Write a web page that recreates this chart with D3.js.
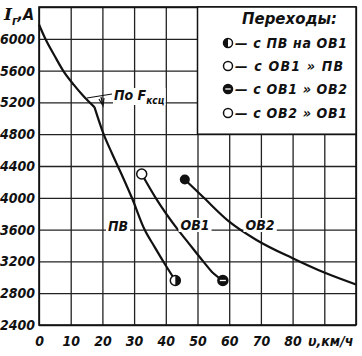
<!DOCTYPE html>
<html><head><meta charset="utf-8">
<script src="https://cdn.jsdelivr.net/npm/d3@7"></script>
<style>
body{margin:0;background:#fff}
text{font-family:"DejaVu Sans Condensed","DejaVu Sans",sans-serif;font-style:italic;font-weight:bold;fill:#111}
</style>
</head><body>
<svg id="c" width="362" height="356"></svg>
<script>
// ---- data ----
const xTickLabels = [0,10,20,30,40,50,60,70,80];
const xGridValues = [0,10,20,30,40,50,60,70,80,90,100];
const yTickLabels = [2400,2800,3200,3600,4000,4400,4800,5200,5600,6000];
const yGridValues = [2400,2800,3200,3600,4000,4400,4800,5200,5600,6000,6400];

const fkscSpeed   = [0,2,5,7.6,11,14,17.5];
const fkscCurrent = [6180,6000,5780,5600,5420,5280,5140];
const pvSpeed     = [17.5,20.2,23,26,29.3,33.3,36.5,39.5,43];
const pvCurrent   = [5140,4820,4560,4300,4000,3600,3380,3180,2960];
const ob1Speed    = [32.4,36.8,43.8,47,51.8,55,58];
const ob1Current  = [4300,4000,3600,3440,3200,3050,2960];
const ob2Speed    = [46,52,60,68.6,80,90,100];
const ob2Current  = [4230,4000,3700,3470,3240,3060,2910];

const legendTitle = "Переходы:";
const legendRows  = ["— с ПВ на ОВ1","— с ОВ1 » ПВ","— с ОВ1 » ОВ2","— с ОВ2 » ОВ1"];
const legendKinds = ["half","open","bar","open"];
const markerSpeed   = [43,32.4,58,46];
const markerCurrent = [2960,4300,2960,4230];
const markerKinds   = ["halfR","open","bar","filled"];

// ---- layout ----
const svg = d3.select("#c");
const L=39, R=356, T=7, B=325;
const x = d3.scaleLinear().domain([0,100]).range([L,R]);
const y = d3.scaleLinear().domain([2400,6400]).range([B,T]);

// grid
const gx = svg.append("g").attr("transform",`translate(0,${B})`)
  .call(d3.axisBottom(x).tickValues(xGridValues).tickSize(-(B-T)).tickFormat(""));
const gy = svg.append("g").attr("transform",`translate(${L},0)`)
  .call(d3.axisLeft(y).tickValues(yGridValues).tickSize(-(R-L)).tickFormat(""));
[gx,gy].forEach(g=>{g.select(".domain").remove();
  g.selectAll(".tick line").attr("stroke","#222").attr("stroke-width",1.3);});

// tick labels
const lx = svg.append("g").attr("transform",`translate(0,${B})`)
  .call(d3.axisBottom(x).tickValues(xTickLabels).tickSize(0).tickPadding(11).tickFormat(d=>d));
const ly = svg.append("g").attr("transform",`translate(${L},0)`)
  .call(d3.axisLeft(y).tickValues(yTickLabels).tickSize(0).tickPadding(4).tickFormat(d=>d));
[lx,ly].forEach(g=>{g.select(".domain").remove();
  g.selectAll("text").attr("font-size",14).attr("font-family",null).style("fill","#111");});

// axis titles
svg.append("text").attr("x",308).attr("y",346).attr("font-size",14).text("υ,км/ч");
const yt = svg.append("text").attr("x",4).attr("y",20).attr("font-size",17);
yt.append("tspan").attr("font-family","DejaVu Serif").text("I");
yt.append("tspan").attr("dy",5).attr("font-size",12).text("г");
yt.append("tspan").attr("dy",-5).attr("font-size",16).text(",A");

// frame
svg.append("rect").attr("x",L).attr("y",T).attr("width",R-L).attr("height",B-T)
  .attr("fill","none").attr("stroke","#111").attr("stroke-width",1.6);

// legend box
const lb = svg.append("g");
lb.append("rect").attr("x",x(50)).attr("y",T).attr("width",R-x(50)).attr("height",y(4800)-T)
  .attr("fill","#fff").attr("stroke","#111").attr("stroke-width",1.5);
lb.append("text").attr("x",242).attr("y",24).attr("font-size",15)
  .attr("textLength",95).attr("lengthAdjust","spacingAndGlyphs").text(legendTitle);
const rowY=[43,66,89,113];
const rowLen=[112,108,112,112];

function marker(g,cx,cy,kind,r){
  if(kind==="filled"){g.append("circle").attr("cx",cx).attr("cy",cy).attr("r",r).attr("fill","#111");return;}
  g.append("circle").attr("cx",cx).attr("cy",cy).attr("r",r)
    .attr("fill",kind==="bar"?"#111":"#fff").attr("stroke","#111").attr("stroke-width",1.5);
  if(kind==="half"||kind==="halfR"){
    const s = kind==="half"?0:1;
    g.append("path").attr("d",`M${cx},${cy-r}A${r},${r} 0 0 ${s} ${cx},${cy+r}Z`).attr("fill","#111");
  }
  if(kind==="bar"){
    g.append("line").attr("x1",cx-r*0.6).attr("x2",cx+r*0.6).attr("y1",cy).attr("y2",cy)
      .attr("stroke","#fff").attr("stroke-width",1.3);
  }
}
legendRows.forEach((t,i)=>{
  marker(lb,228,rowY[i],legendKinds[i],4.5);
  lb.append("text").attr("x",235).attr("y",rowY[i]+5).attr("font-size",14)
    .attr("textLength",rowLen[i]).attr("lengthAdjust","spacing").text(t);
});

// curves
const line = d3.line().x(d=>x(d[0])).y(d=>y(d[1])).curve(d3.curveMonotoneX);
function curve(vs,is){
  svg.append("path").datum(vs.map((v,i)=>[v,is[i]])).attr("d",line)
    .attr("fill","none").attr("stroke","#111").attr("stroke-width",2.2);
}
curve(fkscSpeed,fkscCurrent);
curve(pvSpeed,pvCurrent);
curve(ob1Speed,ob1Current);
curve(ob2Speed,ob2Current);

// curve labels with white background
function label(cx,cy,t){
  const g=svg.append("g");
  const tx=g.append("text").attr("x",cx).attr("y",cy+5).attr("text-anchor","middle").attr("font-size",14).text(t);
  const bb=tx.node().getBBox();
  g.insert("rect","text").attr("x",bb.x-2).attr("y",bb.y+1).attr("width",bb.width+4).attr("height",bb.height-2).attr("fill","#fff");
}
label(118,226,"ПВ");
label(195,225,"ОВ1");
label(260,225,"ОВ2");

// По Fксц annotation
const fg=svg.append("g");
const ft=fg.append("text").attr("x",114).attr("y",100).attr("font-size",14);
ft.append("tspan").text("По F");
ft.append("tspan").attr("dy",4).attr("font-size",10).text("ксц");
const fbb=ft.node().getBBox();
fg.insert("rect","text").attr("x",fbb.x-1).attr("y",fbb.y+1).attr("width",fbb.width+2).attr("height",fbb.height-2).attr("fill","#fff");
fg.append("path").attr("d","M87,98L112,94M101,97L103,106M99,99L103,106L104,98")
  .attr("fill","none").attr("stroke","#111").attr("stroke-width",1.2);

// transition markers
markerSpeed.forEach((v,i)=>marker(svg,x(v),y(markerCurrent[i]),markerKinds[i],5));
</script>
</body></html>
